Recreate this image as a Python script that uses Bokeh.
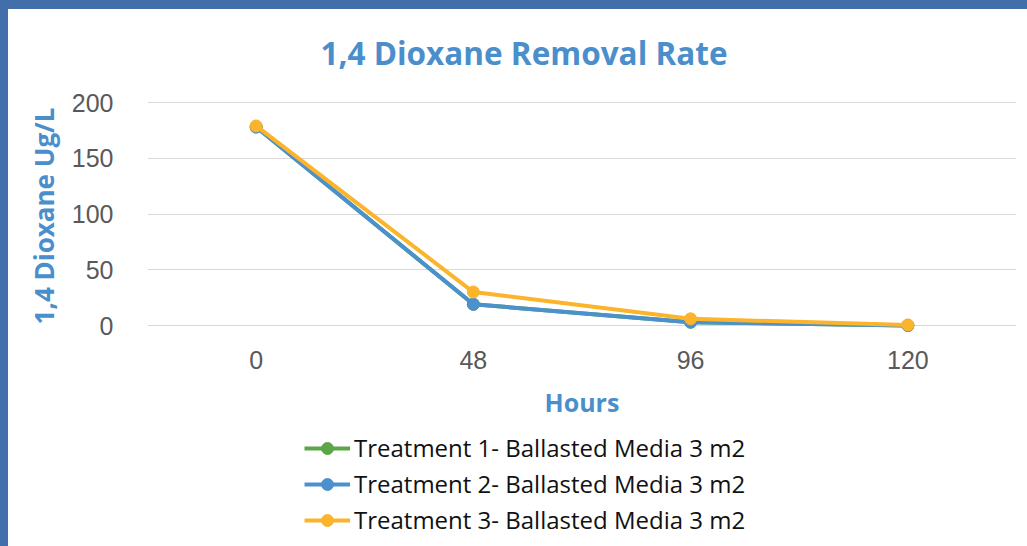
from bokeh.plotting import figure
from bokeh.models import Range1d, FactorRange, Legend, LegendItem, FixedTicker, Title
from bokeh.embed import file_html
from bokeh.resources import INLINE

# ---- data ----
hours = ["0", "48", "96", "120"]
series_names = [
    "Treatment 1- Ballasted Media 3 m2",
    "Treatment 2- Ballasted Media 3 m2",
    "Treatment 3- Ballasted Media 3 m2",
]
treatment1 = [178, 19, 3, 0]
treatment2 = [178, 19, 3, 0]
treatment3 = [179, 30, 6, 0.5]
y_ticks = [0, 50, 100, 150, 200]

colors = ["#5BA646", "#4B91CD", "#FBB42C"]
accent = "#4A8FCB"
frame_blue = "#426EAA"

# frame spans the lower part too so the legend can sit inside it
p = figure(
    x_range=FactorRange(factors=hours),
    y_range=Range1d(-198.2, 200.9),
    width=1027, height=546,
    output_backend="svg", toolbar_location=None,
    min_border_left=147, min_border_right=11,
    min_border_top=101, min_border_bottom=0,
)
p.outline_line_color = None
p.background_fill_color = "white"
p.border_fill_alpha = 0

# title
p.title.text = "1,4 Dioxane Removal Rate"
p.title.align = "left"
p.title.offset = 173
p.title.standoff = 55
p.title.text_font = "Open Sans"
p.title.text_font_style = "bold"
p.title.text_font_size = "31.5px"
p.title.text_color = accent

# grid
p.xgrid.grid_line_color = None
p.ygrid.grid_line_color = "#D9D9D9"
p.ygrid.grid_line_width = 1

# y axis
p.yaxis.ticker = FixedTicker(ticks=y_ticks)
p.yaxis.minor_tick_line_color = None
p.yaxis.major_tick_line_color = None
p.yaxis.axis_line_color = None
p.yaxis.major_label_text_font = "Liberation Sans"
p.yaxis.major_label_text_font_size = "25px"
p.yaxis.major_label_text_color = "#595959"
p.yaxis.major_label_standoff = 28

ytitle = Title(
    text="1,4 Dioxane Ug/L", align="right", offset=6, standoff=13,
    text_font="Open Sans", text_font_style="bold", text_font_size="26px",
    text_color=accent,
)
p.add_layout(ytitle, "left")

# x axis (fixed at y = 0)
p.xaxis.fixed_location = 0
p.xaxis.major_tick_line_color = None
p.xaxis.minor_tick_line_color = None
p.xaxis.axis_line_color = None
p.xaxis.major_label_text_font = "Liberation Sans"
p.xaxis.major_label_text_font_size = "25px"
p.xaxis.major_label_text_color = "#595959"
p.xaxis.major_label_standoff = 19
p.xaxis.axis_label = "Hours"
p.xaxis.axis_label_text_font = "Open Sans"
p.xaxis.axis_label_text_font_style = "bold"
p.xaxis.axis_label_text_font_size = "25px"
p.xaxis.axis_label_text_color = accent
p.xaxis.axis_label_standoff = 13

items = []
for name, vals, c in zip(series_names, [treatment1, treatment2, treatment3], colors):
    l = p.line(hours, vals, line_color=c, line_width=4)
    s = p.scatter(hours, vals, fill_color=c, line_color=c, size=12)
    items.append(LegendItem(label=name, renderers=[l, s]))

legend = Legend(
    items=items, location=(157, 10),
    padding=0, margin=0, spacing=3,
    label_height=30, glyph_height=30, glyph_width=46, label_standoff=4,
    label_text_font="Open Sans", label_text_font_size="24px", label_text_color="#111111",
    border_line_color=None, background_fill_alpha=0,
)
p.add_layout(legend, "center")

html = file_html(p, INLINE)
css = ("<style>html{background:"
       "linear-gradient(%s,%s) 0 0/100%% 9px no-repeat,"
       "linear-gradient(%s,%s) 0 0/8px 100%% no-repeat,#ffffff;}</style>"
       % (frame_blue, frame_blue, frame_blue, frame_blue))
html = html.replace("</head>", css + "</head>", 1)
open("out.html", "w").write(html)
